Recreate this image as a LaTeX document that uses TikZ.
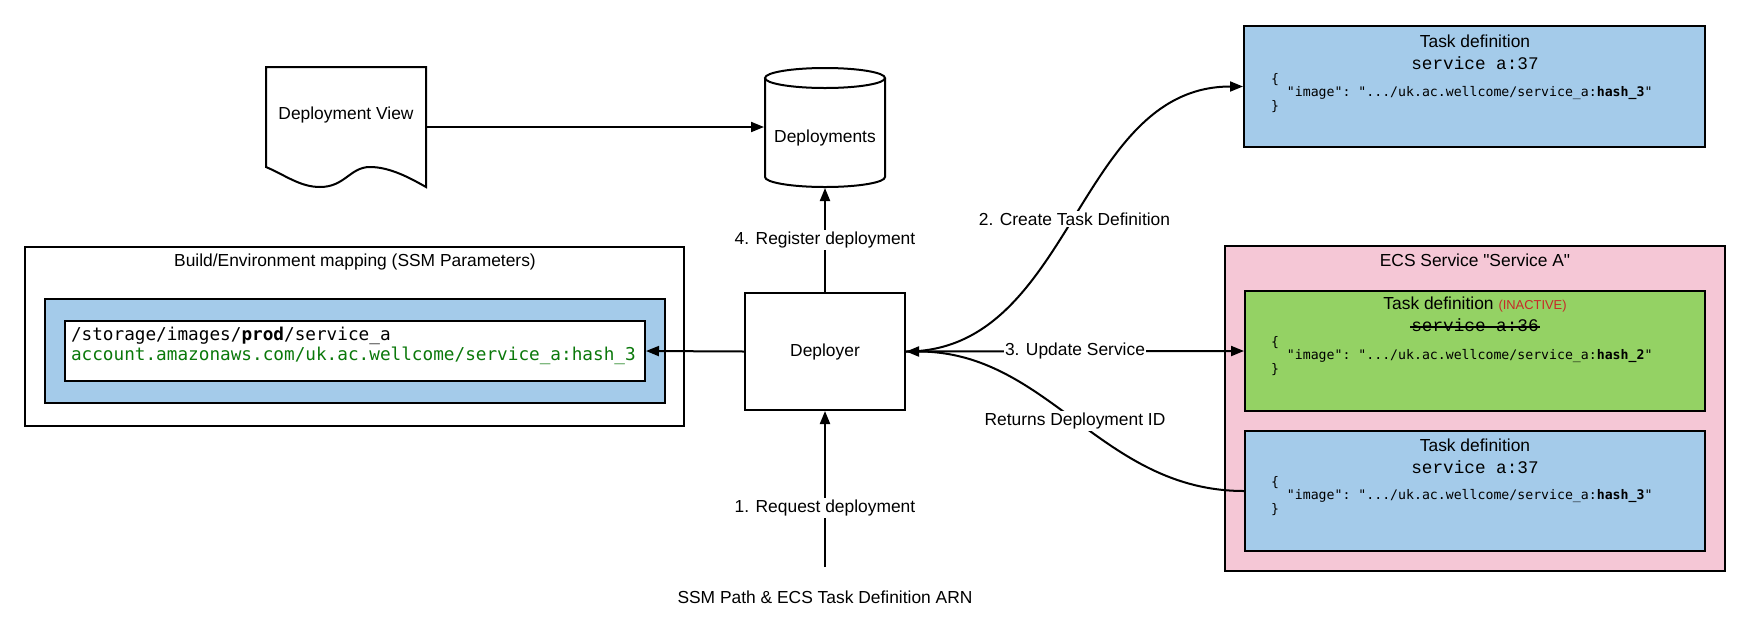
\documentclass[tikz,border=0pt]{standalone}
\usepackage{fontspec}
\setmainfont{Liberation Sans}[Ligatures=TeXOff]
\setmonofont{DejaVu Sans Mono}
\newfontfamily\courfont{Liberation Mono}
\usetikzlibrary{arrows.meta}
\definecolor{tdblue}{RGB}{164,203,234}
\definecolor{ecspink}{RGB}{245,199,214}
\definecolor{tdgreen}{RGB}{148,210,100}
\definecolor{ssmgreen}{RGB}{10,120,10}
\definecolor{inactred}{RGB}{200,40,40}
\begin{document}
\begin{tikzpicture}[x=1pt,y=-1pt, line width=2pt,
  arr/.style={-{Triangle[length=13pt,width=10pt]}},
  lbl/.style={font=\fontsize{17.4}{20}\selectfont, inner sep=2pt},
  lblbg/.style={lbl, fill=white},
  box/.style={draw, line width=2pt, inner sep=0pt},
  ghost/.style={inner sep=0pt},
  monotitle/.style={font=\courfont\fontsize{17.7}{20}\selectfont, inner sep=0pt},
  json/.style={anchor=west, align=left, inner sep=0pt, font=\ttfamily\fontsize{13.2}{13.5}\selectfont}
]
\useasboundingbox (0,0) rectangle (1749,633);

% Document shape
\node[ghost, minimum width=160pt, minimum height=120pt] (docv) at (346,127) {};
\draw[fill=white] (266,67) -- (426,67) -- (426,187)
  .. controls (410,178) and (390,167) .. (370,167)
  .. controls (350,167) and (345,187) .. (320,187)
  .. controls (300,187) and (285,175) .. (266,167) -- cycle;
\node[lbl] (docvtext) at (346,115) {Deployment View};

% Cylinder
\node[ghost, minimum width=120pt, minimum height=120pt] (deploy) at (825,127) {};
\draw[fill=white] (765,78) -- (765,177) arc[start angle=180,end angle=360,x radius=60pt,y radius=10pt] -- (885,78);
\draw (825,78) ellipse [x radius=60pt, y radius=10pt];
\node[lbl] (deploytext) at (825,138) {Deployments};

% SSM mapping
\node[box, minimum width=659pt, minimum height=179pt] (ssmouter) at (354.5,336.5) {};
\node[lbl] (ssmtitle) at (355,262) {Build/Environment mapping (SSM Parameters)};
\node[box, fill=tdblue, minimum width=620pt, minimum height=104pt] (ssmblue) at (355,351) {};
\node[box, fill=white, minimum width=580pt, minimum height=60pt] (ssmwhite) at (355,351) {};
\node[anchor=west, align=left, inner sep=0pt, font=\ttfamily\fontsize{17.7}{19.5}\selectfont] (ssmtext) at (70,346)
  {/storage/images/\textbf{prod}/service\_a\\\textcolor{ssmgreen}{account.amazonaws.com/uk.ac.wellcome/service\_a:hash\_3}};

% Deployer
\node[box, fill=white, minimum width=160pt, minimum height=117pt, font=\fontsize{17.4}{20}\selectfont] (dep) at (825,351.5) {Deployer};

% Top task definition
\node[box, fill=tdblue, minimum width=461pt, minimum height=121pt] (td1) at (1474.5,86.5) {};
\node[lbl] (td1title) at (1475,41) {Task definition};
\node[monotitle] (td1name) at (1475,63) {service a:37};
\node[json] (td1json) at (1270,93) {\{\\\hspace*{15.9pt}"image": ".../uk.ac.wellcome/service\_a:\textbf{hash\_3}"\\\}};

% ECS service
\node[box, fill=ecspink, minimum width=500pt, minimum height=325pt] (ecs) at (1475,408.5) {};
\node[lbl] (ecstitle) at (1475,260) {ECS Service "Service A"};

\node[box, fill=tdgreen, minimum width=460pt, minimum height=120pt] (td2) at (1475,351) {};
\node[lbl] (td2title) at (1475,305) {Task definition {\fontsize{12.9}{14}\selectfont\color{inactred}(INACTIVE)}};
\node[monotitle] (td2name) at (1475,325) {service a:36};
\draw[line width=1.5pt] ([yshift=-2pt]td2name.west) -- ([yshift=-2pt]td2name.east);
\node[json] (td2json) at (1270,356) {\{\\\hspace*{15.9pt}"image": ".../uk.ac.wellcome/service\_a:\textbf{hash\_2}"\\\}};

\node[box, fill=tdblue, minimum width=460pt, minimum height=120pt] (td3) at (1475,491) {};
\node[lbl] (td3title) at (1475,445) {Task definition};
\node[monotitle] (td3name) at (1475,467) {service a:37};
\node[json] (td3json) at (1270,496) {\{\\\hspace*{15.9pt}"image": ".../uk.ac.wellcome/service\_a:\textbf{hash\_3}"\\\}};

% Source
\node[lbl] (src) at (825,597) {SSM Path \& ECS Task Definition ARN};
\coordinate (srcend) at (825,567);

% Connectors
\draw[arr] (docv.east) -- (deploy.west);
\draw[arr] (dep.north) -- node[lblbg] {4. Register deployment} (deploy.south);
\draw[arr] (srcend) -- node[lblbg, pos=0.38] {1. Request deployment} (dep.south);
\draw[arr] (dep.west) -- (ssmwhite.east);
\draw[arr] (dep.east) to[out=0,in=180] node[lblbg] {2. Create Task Definition} (td1.west);
\draw[arr] (dep.east) -- node[lblbg, inner sep=1pt] {3. Update Service} (td2.west);
\draw[arr] (td3.west) to[out=180,in=0] node[lblbg] {Returns Deployment ID} (dep.east);
\end{tikzpicture}
\end{document}
